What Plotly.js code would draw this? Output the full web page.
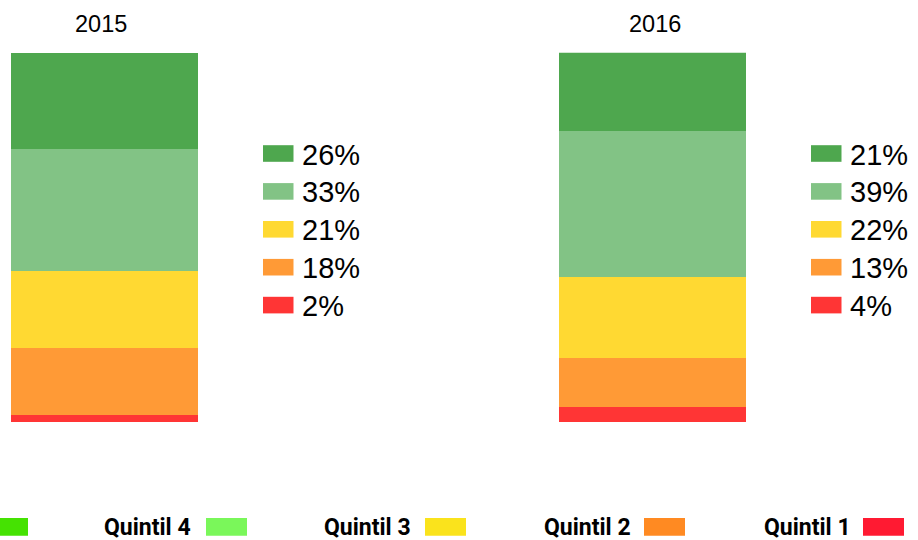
<!DOCTYPE html>
<html>
<head>
<meta charset="utf-8">
<script src="https://cdn.plot.ly/plotly-3.0.1.min.js"></script>
<style>html,body{margin:0;padding:0;background:#fff;}#chart{width:918px;height:540px;}</style>
</head>
<body>
<div id="chart"></div>
<script>
// ---- data ----
const years = ['2015', '2016'];
// segments listed top to bottom
const segmentNames = ['Quintil 5', 'Quintil 4', 'Quintil 3', 'Quintil 2', 'Quintil 1'];
const share2015 = [26.0, 33.0, 21.0, 18.0, 2.0];
const share2016 = [21.4, 39.3, 22.0, 13.3, 4.1];
const barColors = ['#4ea74e', '#82c385', '#ffd932', '#ff9a36', '#ff3535'];
// bottom legend (left to right); the first label falls outside the picture
const legendLabels = ['Quintil 5', 'Quintil 4', 'Quintil 3', 'Quintil 2', 'Quintil 1'];
const legendColors = ['#45e202', '#7af75a', '#fae31c', '#ff8a22', '#ff1a32'];

// ---- layout helpers (pixels -> paper) ----
const W = 918, H = 540;
const px = v => v / W;
const py = v => 1 - v / H;

// stacked bar traces, bottom segment first
const traces = [];
for (let i = segmentNames.length - 1; i >= 0; i--) {
  traces.push({
    type: 'bar',
    name: segmentNames[i],
    x: years,
    y: [share2015[i], share2016[i]],
    width: 0.341,
    marker: {color: barColors[i], line: {width: 0}},
    hoverinfo: 'none',
    showlegend: false
  });
}

const annotations = [];
const shapes = [];

// year titles
const titleX = [101, 655];
years.forEach((yr, k) => {
  annotations.push({
    xref: 'paper', yref: 'paper', x: px(titleX[k]), y: py(24),
    xanchor: 'center', yanchor: 'middle', showarrow: false,
    text: yr, font: {family: 'Liberation Sans, Arial, sans-serif', size: 23.5, color: '#000'}
  });
});

// side legends with percentages
const sideSwatchX = [263, 811];
const rowCenter0 = 153.5, rowStep = 37.9;
[share2015, share2016].forEach((arr, k) => {
  arr.forEach((v, i) => {
    const cy = rowCenter0 + i * rowStep;
    shapes.push({
      type: 'rect', xref: 'paper', yref: 'paper',
      x0: px(sideSwatchX[k]), x1: px(sideSwatchX[k] + 30.5),
      y0: py(cy - 8.3), y1: py(cy + 8.3),
      fillcolor: barColors[i], line: {width: 0}
    });
    annotations.push({
      xref: 'paper', yref: 'paper', x: px(sideSwatchX[k] + 37), y: py(cy + 1),
      xanchor: 'left', yanchor: 'middle', showarrow: false,
      text: Math.round(v) + '%',
      font: {family: 'Liberation Sans, Arial, sans-serif', size: 29, color: '#000'}
    });
  });
});

// bottom legend: label then swatch
legendLabels.forEach((lab, j) => {
  const tx = 103 + 220 * (j - 1);
  if (tx >= 0) {
    annotations.push({
      xref: 'paper', yref: 'paper', x: px(tx - 1), y: py(527),
      xanchor: 'left', yanchor: 'middle', showarrow: false,
      text: lab,
      font: {family: 'Roboto, sans-serif', size: 23, color: '#000', weight: 700}
    });
  }
  const sx = 206 + 219 * (j - 1);
  shapes.push({
    type: 'rect', xref: 'paper', yref: 'paper',
    x0: px(sx), x1: px(sx + 41), y0: py(518), y1: py(535.7),
    fillcolor: legendColors[j], line: {width: 0}
  });
});

const layout = {
  width: W, height: H,
  margin: {l: 0, r: 0, t: 0, b: 0},
  paper_bgcolor: '#fff', plot_bgcolor: '#fff',
  barmode: 'stack', bargap: 0,
  showlegend: false,
  xaxis: {range: [-104.5 / 548, (W - 104.5) / 548], visible: false, fixedrange: true, type: 'category'},
  yaxis: {domain: [(H - 422) / H, (H - 52.7) / H], range: [0, 100], visible: false, fixedrange: true},
  annotations: annotations,
  shapes: shapes
};

Plotly.newPlot('chart', traces, layout, {displayModeBar: false, staticPlot: true});
</script>
</body>
</html>
